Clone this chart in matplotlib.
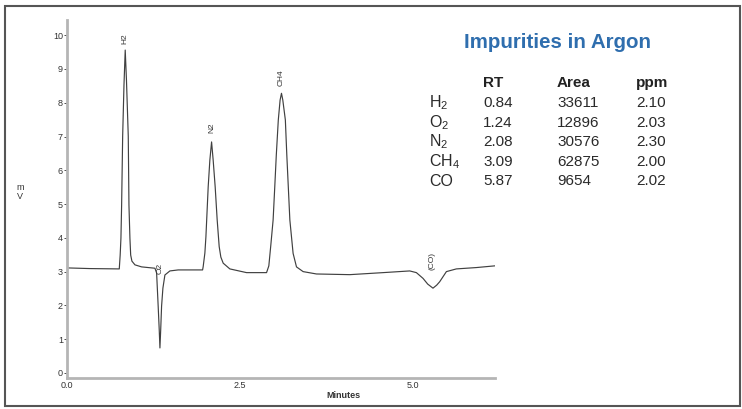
import matplotlib.pyplot as plt
from matplotlib.patches import Rectangle

# chromatogram trace (minutes, mV)
time_min = [0.000, 0.330, 0.756, 0.769, 0.780, 0.790, 0.805, 0.824, 0.842,
            0.860, 0.886, 0.896, 0.910, 0.921, 0.939, 0.983, 1.079, 1.272,
            1.296, 1.319, 1.334, 1.344, 1.355, 1.368, 1.387, 1.416, 1.488,
            1.608, 1.961, 1.969, 1.994, 2.009, 2.042, 2.066, 2.091, 2.114,
            2.143, 2.172, 2.201, 2.225, 2.259, 2.355, 2.597, 2.886, 2.919,
            2.948, 2.981, 3.006, 3.027, 3.056, 3.082, 3.102, 3.121, 3.158,
            3.179, 3.223, 3.270, 3.319, 3.415, 3.608, 4.090, 4.571, 4.957,
            5.053, 5.149, 5.217, 5.293, 5.347, 5.390, 5.487, 5.631, 5.921,
            6.185]
signal_mv = [3.11, 3.09, 3.08, 3.49, 3.99, 4.97, 7.01, 8.52, 9.56,
             8.67, 7.01, 4.97, 3.99, 3.49, 3.31, 3.20, 3.14, 3.10,
             2.96, 1.96, 1.27, 0.74, 1.27, 1.98, 2.51, 2.90, 3.02,
             3.05, 3.05, 3.14, 3.55, 4.03, 5.51, 6.30, 6.84, 6.30,
             5.51, 4.53, 3.74, 3.43, 3.25, 3.08, 2.97, 2.97, 3.17,
             3.79, 4.53, 5.56, 6.45, 7.49, 8.08, 8.28, 8.08, 7.49,
             6.45, 4.53, 3.54, 3.14, 3.00, 2.93, 2.91, 2.97, 3.02,
             2.97, 2.80, 2.63, 2.51, 2.60, 2.70, 3.00, 3.08, 3.12,
             3.17]

# peak annotations
peak_names = ["H2", "O2", "N2", "CH4", "(CO)"]
peak_t = [0.84, 1.34, 2.09, 3.10, 5.28]
peak_y = [9.91, 3.10, 7.25, 8.75, 3.30]

# results table
species = ["H$_2$", "O$_2$", "N$_2$", "CH$_4$", "CO"]
rt = ["0.84", "1.24", "2.08", "3.09", "5.87"]
area = ["33611", "12896", "30576", "62875", "9654"]
ppm = ["2.10", "2.03", "2.30", "2.00", "2.02"]

plt.rcParams['font.family'] = ['Liberation Sans', 'DejaVu Sans']
plt.rcParams['mathtext.fontset'] = 'custom'
plt.rcParams['mathtext.rm'] = 'Liberation Sans'

W, H = 742, 409
fig = plt.figure(figsize=(W / 100, H / 100), dpi=100)
fig.patch.set_facecolor("white")

ax = fig.add_axes([67 / W, 1 - 378 / H, (495 - 67) / W, (378 - 20) / H])
ax.plot(time_min, signal_mv, color="#404040", lw=0.85)
ax.set_xlim(0, 6.19)
ax.set_ylim(-0.15, 10.45)

for s in ["top", "right"]:
    ax.spines[s].set_visible(False)
for s in ["left", "bottom"]:
    ax.spines[s].set_color("#b5b5b5")
    ax.spines[s].set_linewidth(2)

ax.set_xticks([0, 2.5, 5.0])
ax.set_xticklabels(["0.0", "2.5", "5.0"])
ax.set_yticks(range(0, 11))
ax.tick_params(axis="both", labelsize=6.5, colors="#333333", length=2,
               width=0.6, pad=1)
ax.tick_params(axis="x", length=0, pad=2)

for name, t, y in zip(peak_names, peak_t, peak_y):
    ax.text(t, y, name, rotation=90, ha="center", va="center",
            fontsize=6, color="#333333")

fig.text(343 / W, 1 - 395 / H, "Minutes", ha="center", va="center",
         fontsize=6.5, fontweight="bold", color="#333333")
fig.text(20 / W, 1 - 192 / H, "m\nV", ha="center", va="center",
         fontsize=6.5, color="#333333", linespacing=0.9)

# table on the right
fig.text(557 / W, 1 - 42 / H, "Impurities in Argon", ha="center",
         va="center", fontsize=14.8, fontweight="bold", color="#2f6eae")

col_x = [483, 557, 636]
headers = ["RT", "Area", "ppm"]
for x, h in zip(col_x, headers):
    fig.text(x / W, 1 - 83 / H, h, ha="left", va="center", fontsize=11,
             fontweight="bold", color="#222222")

row_y = [103, 122.5, 142, 161.5, 181]
for i, y in enumerate(row_y):
    fig.text(429 / W, 1 - y / H, species[i], ha="left", va="center",
             fontsize=11.5, color="#2a2a2a")
    for x, col in zip(col_x, [rt, area, ppm]):
        fig.text(x / W, 1 - y / H, col[i], ha="left", va="center",
                 fontsize=11, color="#2a2a2a")

fig.patches.append(Rectangle((5 / W, 3 / H), 735 / W, 400 / H,
                             transform=fig.transFigure, fill=False,
                             edgecolor="#555555", lw=1.5))

fig.savefig("out.png", dpi=100, facecolor="white")
